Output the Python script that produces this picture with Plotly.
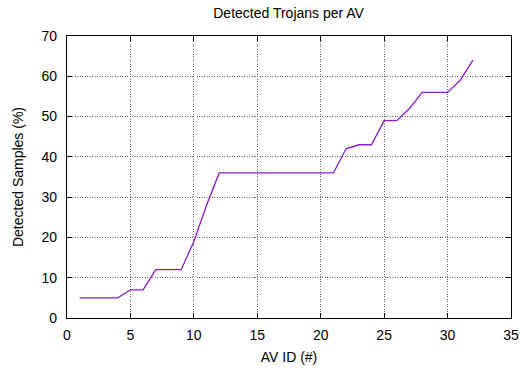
import plotly.graph_objects as go

av_id = list(range(1, 33))
detected = [5, 5, 5, 5, 7, 7, 12, 12, 12, 19, 28, 36, 36, 36, 36, 36, 36, 36, 36, 36, 36,
            42, 43, 43, 49, 49, 52, 56, 56, 56, 59, 64]
x_ticks = [0, 5, 10, 15, 20, 25, 30, 35]
y_ticks = [0, 10, 20, 30, 40, 50, 60, 70]

FONT = "Liberation Sans, Arial"

fig = go.Figure()
fig.add_trace(go.Scatter(x=av_id, y=detected, mode="lines",
                         line=dict(color="#8A1CCB", width=1.3), showlegend=False))

axis_common = dict(
    showline=True, linecolor="black", linewidth=1.3, mirror="ticks",
    ticks="inside", ticklen=5, tickcolor="black", tickwidth=1,
    showgrid=True, gridcolor="#666666", griddash="1px,1.5px", gridwidth=1,
    zeroline=False, automargin=False,
    tickfont=dict(family=FONT, size=14, color="black"),
)

fig.update_layout(
    width=520, height=368,
    margin=dict(l=67, r=9, t=36, b=50),
    paper_bgcolor="white", plot_bgcolor="white",
    title=dict(text="Detected Trojans per AV", x=0.555, xanchor="center", y=0.965, yanchor="middle",
               font=dict(family=FONT, size=14, color="black")),
    xaxis=dict(range=[0, 35], tickvals=x_ticks, ticklabelstandoff=4,
               title=dict(text="AV ID (#)", standoff=10,
                          font=dict(family=FONT, size=14, color="black")),
               **axis_common),
    yaxis=dict(range=[0, 70], tickvals=y_ticks, ticklabelstandoff=6,
               title=dict(text="Detected Samples (%)", standoff=14,
                          font=dict(family=FONT, size=14, color="black")),
               **axis_common),
)

fig.write_html("out.html")
